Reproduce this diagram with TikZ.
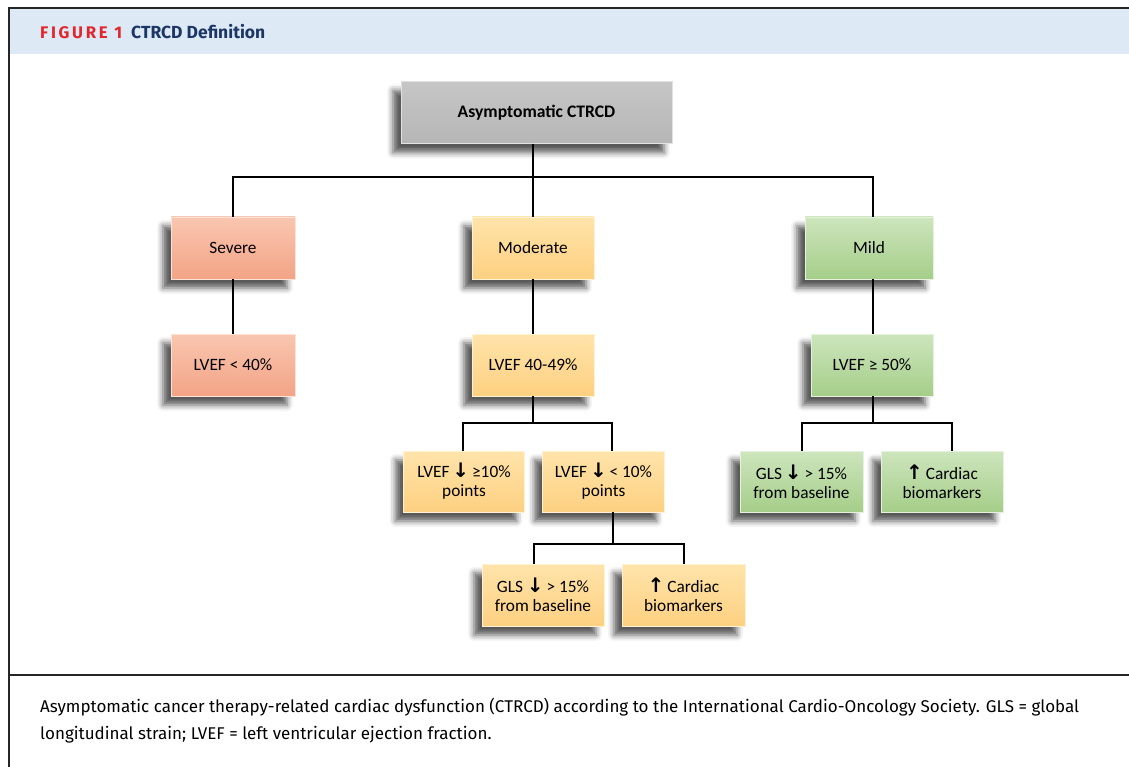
\documentclass[tikz,border=0pt]{standalone}
\usepackage{fontspec}
\setmainfont{Carlito}
\newfontfamily\capfont{Fira Sans}
\newfontfamily\headfont{Fira Sans}
\newfontfamily\figfont[LetterSpace=16]{Fira Sans}
\newfontfamily\arrfont{DejaVu Sans}
\usetikzlibrary{shadows.blur}
\definecolor{hdrbg}{HTML}{DDE9F5}
\definecolor{figred}{HTML}{E2262E}
\definecolor{figblue}{HTML}{1C3766}
\definecolor{salT}{HTML}{F9C6B0}
\definecolor{salB}{HTML}{F3A486}
\definecolor{yelT}{HTML}{FFE4AA}
\definecolor{yelB}{HTML}{FDD081}
\definecolor{grnT}{HTML}{CDE5BD}
\definecolor{grnB}{HTML}{A5CE89}
\definecolor{gryT}{HTML}{C6C6C6}
\definecolor{gryB}{HTML}{B6B6B6}
\newcommand{\dn}{{\arrfont\bfseries\fontsize{20}{18}\selectfont ↓}}
\newcommand{\up}{{\arrfont\bfseries\fontsize{20}{18}\selectfont ↑}}
\tikzset{
  box/.style={rectangle, align=center, font=\fontsize{17.3}{19}\selectfont,
    inner sep=2pt, minimum height=62pt,
    blur shadow={shadow xshift=-8pt, shadow yshift=-9pt, shadow blur radius=6pt, shadow opacity=65}},
  sal/.style={box, top color=salT, bottom color=salB, draw=salT!50!white, line width=0.8pt},
  yel/.style={box, top color=yelT, bottom color=yelB, draw=yelT!50!white, line width=0.8pt},
  grn/.style={box, top color=grnT, bottom color=grnB, draw=grnT!50!white, line width=0.8pt},
  gry/.style={box, top color=gryT, bottom color=gryB, draw=gryT!50!white, line width=0.8pt},
  conn/.style={line width=1.6pt, black},
  capline/.style={anchor=base west, inner sep=0pt, font=\capfont\fontsize{17}{20}\selectfont},
}
\begin{document}
\begin{tikzpicture}[x=1pt, y=-1pt]
\useasboundingbox (0,0) rectangle (1129,767);
% frame and header
\fill[hdrbg] (10,9) rectangle (1129,54);
\draw[line width=2pt, black!85] (9,767) -- (9,8) -- (1129,8);
\draw[line width=1.5pt, black!85] (9,675) -- (1129,675);
\node[anchor=base west, inner sep=0pt, font=\figfont\bfseries\fontsize{16.8}{18}\selectfont, text=figred] (fig) at (40,39) {FIGURE 1};
\node[anchor=base west, inner sep=0pt, font=\headfont\bfseries\fontsize{17.5}{18}\selectfont, text=figblue] (ttl) at (131,39) {CTRCD Definition};
% nodes
\node[gry, minimum width=271pt, font=\bfseries\fontsize{17.6}{19}\selectfont] (top) at (536.5,112.5) {Asymptomatic CTRCD};
\node[sal, minimum width=124pt] (sev) at (233,248) {Severe};
\node[yel, minimum width=122pt] (mod) at (533,248) {Moderate};
\node[grn, minimum width=128pt] (mild) at (869,248) {Mild};
\node[sal, minimum width=124pt] (sev2) at (233,365) {LVEF {\textless} 40\%};
\node[yel, minimum width=122pt] (mod2) at (533,365) {LVEF 40-49\%};
\node[grn, minimum width=122pt] (mild2) at (872,365) {LVEF ≥ 50\%};
\node[yel, minimum width=121pt, minimum height=61pt] (m1) at (464,481.5) {LVEF\,\dn\,≥10\%\\points};
\node[yel, minimum width=122pt, minimum height=61pt] (m2) at (603.5,481.5) {LVEF\,\dn\,{\textless} 10\%\\points};
\node[grn, minimum width=123pt, minimum height=61pt] (g1) at (801.5,481.5) {GLS\,\dn\,{\textgreater} 15\%\\from baseline};
\node[grn, minimum width=122pt, minimum height=61pt] (g2) at (942,481.5) {\up\,Cardiac\\biomarkers};
\node[yel, minimum width=122pt] (b1) at (543,595) {GLS \dn\,{\textgreater} 15\%\\from baseline};
\node[yel, minimum width=123pt] (b2) at (683.5,595) {\up\,Cardiac\\biomarkers};
% junctions
\coordinate (j1) at (533,177);
\coordinate (j2) at (533,423);
\coordinate (j3) at (873,423);
\coordinate (j4) at (613,544);
% connectors
\draw[conn] (top.south -| j1) -- (j1);
\draw[conn] (sev.north) -- (sev.north |- j1) -- (j1 -| 873,0) -- (mild.north -| 873,0);
\draw[conn] (j1) -- (mod.north);
\draw[conn] (sev.south) -- (sev2.north);
\draw[conn] (mod.south) -- (mod2.north);
\draw[conn] (mild.south -| 873,0) -- (mild2.north -| 873,0);
\draw[conn] (mod2.south) -- (j2);
\draw[conn] (m1.north -| 463,0) -- (j2 -| 463,0) -- (j2 -| 612,0) -- (m2.north -| 612,0);
\draw[conn] (mild2.south -| j3) -- (j3);
\draw[conn] (g1.north -| 802,0) -- (j3 -| 802,0) -- (j3 -| 952,0) -- (g2.north -| 952,0);
\draw[conn] (m2.south -| j4) -- (j4);
\draw[conn] (b1.north -| 534,0) -- (j4 -| 534,0) -- (j4 -| 684,0) -- (b2.north -| 684,0);
% caption
\node[capline] (cap1) at (40,712) {Asymptomatic cancer therapy-related cardiac dysfunction (CTRCD) according to the International Cardio-Oncology Society. GLS = global};
\node[capline] (cap2) at (40,739) {longitudinal strain; LVEF = left ventricular ejection fraction.};
\end{tikzpicture}
\end{document}
